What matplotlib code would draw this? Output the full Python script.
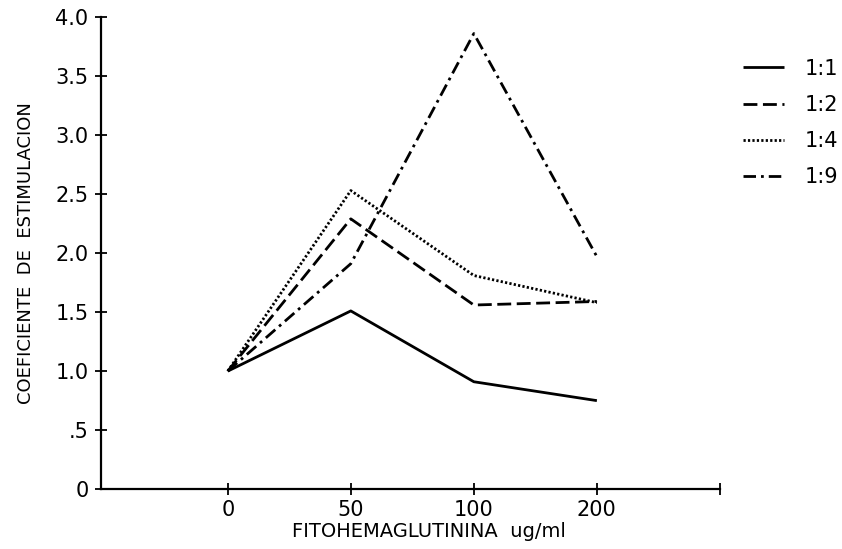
import matplotlib

matplotlib.use("Agg")

import matplotlib.pyplot as plt
from matplotlib import font_manager

# doses shown at equal spacing on the x axis
doses = ["0", "50", "100", "200"]
y_ticks = [0, 0.5, 1.0, 1.5, 2.0, 2.5, 3.0, 3.5, 4.0]
y_tick_labels = ["0", ".5", "1.0", "1.5", "2.0", "2.5", "3.0", "3.5", "4.0"]

ratio_11 = [1.0, 1.51, 0.91, 0.75]
ratio_12 = [1.0, 2.29, 1.56, 1.59]
ratio_14 = [1.0, 2.53, 1.81, 1.58]
ratio_19 = [1.0, 1.91, 3.86, 1.97]

series = [
    ("1:1", ratio_11, (0, ())),
    ("1:2", ratio_12, (0, (5, 2))),
    ("1:4", ratio_14, (0, (0.8, 0.8))),
    ("1:9", ratio_19, (0, (4.5, 1.8, 1, 1.8))),
]

plt.rcParams["font.family"] = "DejaVu Sans"

# the y label in the scan is a tall, narrow face
installed = {f.name for f in font_manager.fontManager.ttflist}
if "Liberation Sans Narrow" in installed:
    ylabel_font, ylabel_size = "Liberation Sans Narrow", 16
else:
    ylabel_font, ylabel_size = "DejaVu Sans", 13

fig = plt.figure(figsize=(8.42, 5.49), dpi=100)
ax = fig.add_axes([0.120, 0.109, 0.735, 0.860])

x = list(range(len(doses)))
for label, values, style in series:
    ax.plot(x, values, color="black", linewidth=2.0, linestyle=style, label=label)

ax.set_xlim(-1.03, 4.0)
ax.set_ylim(0, 4.0)
ax.set_xticks(x + [4])
ax.set_xticklabels(doses + [""])
ax.set_yticks(y_ticks)
ax.set_yticklabels(y_tick_labels)

for side in ("top", "right"):
    ax.spines[side].set_visible(False)
for side in ("left", "bottom"):
    ax.spines[side].set_linewidth(1.6)

ax.tick_params(axis="both", direction="inout", length=8, width=1.3, labelsize=15)
ax.tick_params(axis="x", pad=4)
ax.tick_params(axis="y", pad=5)

ax.set_ylabel("COEFICIENTE  DE  ESTIMULACION", fontsize=ylabel_size,
              family=ylabel_font)
ax.yaxis.set_label_coords(-0.107, 0.5)
ax.set_xlabel("FITOHEMAGLUTININA  ug/ml", fontsize=14)
ax.xaxis.set_label_coords(0.53, -0.070)

fig.legend(
    loc="upper left",
    bbox_to_anchor=(0.882, 0.893),
    frameon=False,
    fontsize=15,
    handlelength=2.0,
    handletextpad=0.96,
    labelspacing=0.78,
    borderpad=0,
    borderaxespad=0,
)

fig.savefig("out.png", dpi=100, facecolor="white")
plt.close(fig)
